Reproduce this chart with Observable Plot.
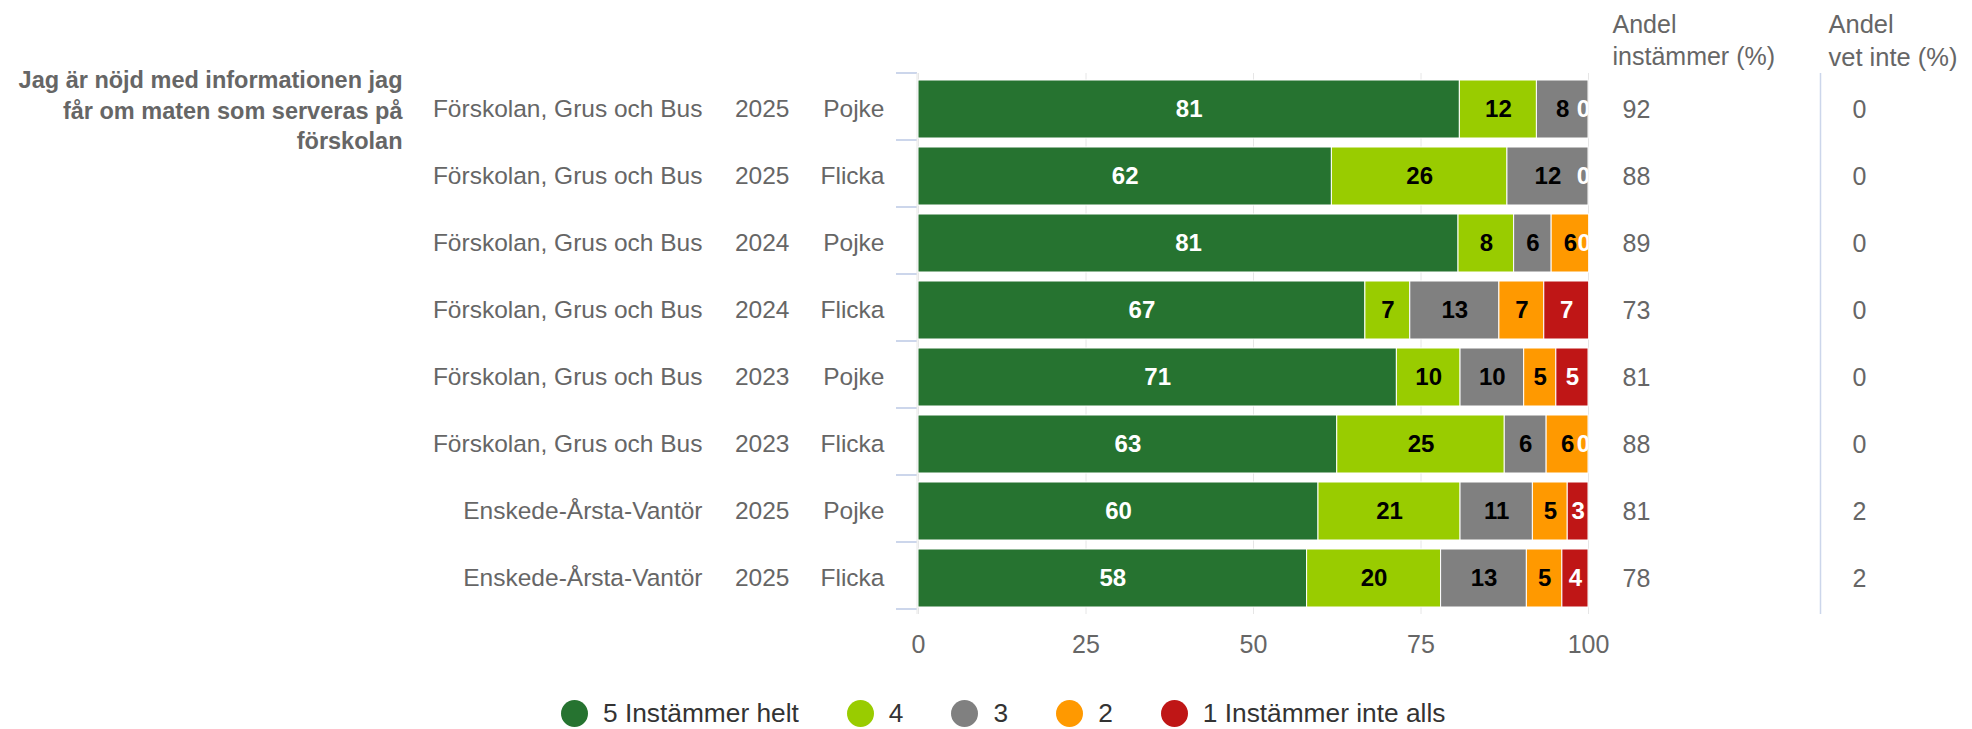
<!DOCTYPE html>
<html>
<head>
<meta charset="utf-8">
<script src="https://cdn.jsdelivr.net/npm/d3@7"></script>
<script src="https://cdn.jsdelivr.net/npm/@observablehq/plot@0.6"></script>
<style>
  html, body { margin: 0; padding: 0; background: #fff; }
  #wrap { position: relative; width: 1972px; height: 729px; font-family: "Liberation Sans", Arial, sans-serif; }
  #legend { position: absolute; left: 561px; top: 698px; display: flex; align-items: center; gap: 48px; font-size: 26.3px; color: #333; }
  .item { display: flex; align-items: center; }
  .sw { width: 27px; height: 27px; border-radius: 50%; margin-right: 15px; }
</style>
</head>
<body>
<div id="wrap"></div>
<script>
const question = "Jag är nöjd med informationen jag\nfår om maten som serveras på\nförskolan";
const schools = ["Förskolan, Grus och Bus","Förskolan, Grus och Bus","Förskolan, Grus och Bus","Förskolan, Grus och Bus","Förskolan, Grus och Bus","Förskolan, Grus och Bus","Enskede-Årsta-Vantör","Enskede-Årsta-Vantör"];
const years = ["2025","2025","2024","2024","2023","2023","2025","2025"];
const genders = ["Pojke","Flicka","Pojke","Flicka","Pojke","Flicka","Pojke","Flicka"];
const seriesNames = ["5 Instämmer helt","4","3","2","1 Instämmer inte alls"];
const seriesColors = ["#267330","#99cc00","#808080","#ff9900","#bf1616"];
const labelColors = ["#ffffff","#000000","#000000","#000000","#ffffff"];
const share5 = [80.8, 61.7, 80.6, 66.7, 71.4, 62.5, 59.7, 58.0];
const share4 = [11.5, 26.2, 8.3, 6.7, 9.5, 25.0, 21.2, 20.0];
const share3 = [7.7, 12.1, 5.6, 13.3, 9.5, 6.25, 10.8, 12.8];
const share2 = [0, 0, 5.6, 6.7, 4.8, 6.25, 5.2, 5.3];
const share1 = [0, 0, 0, 6.7, 4.8, 0, 3.1, 3.9];
const agree = [92, 88, 89, 73, 81, 88, 81, 78];
const dontKnow = [0, 0, 0, 0, 0, 0, 2, 2];
const xTicks = [0, 25, 50, 75, 100];
const header1 = "Andel\ninstämmer (%)";
const header2 = "Andel\nvet inte (%)";

const ids = schools.map((_, i) => String(i));
const shares = [share5, share4, share3, share2, share1];
const rows = ids.map((id, i) => ({id, school: schools[i], year: years[i], gender: genders[i], agree: agree[i], dk: dontKnow[i]}));
const data = [];
ids.forEach((id, i) => {
  let acc = 0;
  shares.forEach((arr, s) => {
    const v = arr[i];
    data.push({id, series: seriesNames[s], s, value: v, x1: acc, x2: acc + v, mid: acc + v / 2, label: String(Math.round(v))});
    acc += v;
  });
});
const labelData = data.filter(d => d.value > 0);
const zeroLabels = data.filter(d => d.value === 0 && d.s === 4);

const W = 1972, H = 680;
const mT = 73, mB = 66, mL = 918, mR = W - 1588;
const font = "'Liberation Sans', Arial, sans-serif";

const plot = Plot.plot({
  width: W, height: H,
  marginTop: mT, marginBottom: mB, marginLeft: mL, marginRight: mR,
  style: {fontFamily: font, background: "#fff"},
  x: {domain: [0, 100], axis: null},
  y: {domain: ids, paddingInner: 0.13, paddingOuter: 0.065, axis: null},
  color: {domain: seriesNames, range: seriesColors},
  marks: [
    Plot.ruleX(xTicks, {stroke: "#e6e6e6", strokeWidth: 1}),
    Plot.axisX({ticks: xTicks, tickSize: 0, tickPadding: 21, fontSize: 25, color: "#666", fill: "#666", label: null, tickFormat: d => String(d)}),
    Plot.barX(data, {x1: "x1", x2: "x2", y: "id", fill: "series", stroke: "#fff", strokeWidth: 1}),
    Plot.text(labelData, {x: "mid", y: "id", text: "label", fill: d => labelColors[d.s], fontWeight: "bold", fontSize: 24}),
    Plot.text(zeroLabels, {x: "mid", y: "id", text: "label", fill: d => labelColors[d.s], fontWeight: "bold", fontSize: 24, dx: -5, clip: true}),
    Plot.text(rows, {y: "id", text: "school", frameAnchor: "left", dx: 702 - mL, textAnchor: "end", fontSize: 24.5, fill: "#666"}),
    Plot.text(rows, {y: "id", text: "year", frameAnchor: "left", dx: 789 - mL, textAnchor: "end", fontSize: 24.5, fill: "#666"}),
    Plot.text(rows, {y: "id", text: "gender", frameAnchor: "left", dx: 884 - mL, textAnchor: "end", fontSize: 24.5, fill: "#666"}),
    Plot.text(rows, {y: "id", text: d => String(d.agree), frameAnchor: "right", dx: 1622 - 1588, textAnchor: "start", fontSize: 25, fill: "#666"}),
    Plot.text(rows, {y: "id", text: d => String(d.dk), frameAnchor: "right", dx: 1859 - 1588, textAnchor: "middle", fontSize: 25, fill: "#666"}),
    Plot.ruleX([100], {dx: 1820 - 1588, stroke: "#ccd6eb", strokeWidth: 1.5}),
    Plot.text([header1], {frameAnchor: "top-right", dx: 1612 - 1588, dy: 38 - mT, textAnchor: "start", lineAnchor: "middle", lineHeight: 1.31, fontSize: 25, fill: "#666"}),
    Plot.text([header2], {frameAnchor: "top-right", dx: 1828 - 1588, dy: 38 - mT, textAnchor: "start", lineAnchor: "middle", lineHeight: 1.31, fontSize: 25.5, fill: "#666"}),
    Plot.text([question], {frameAnchor: "top-left", dx: 402 - mL, dy: -7, textAnchor: "end", lineAnchor: "top", lineHeight: 1.3, fontSize: 23.5, fontWeight: "bold", fill: "#666"})
  ]
});

// category band boundary ticks on the left axis
const ys = plot.scale("y");
const step = ys.step;
const g = d3.select(plot).append("g").attr("stroke", "#ccd6eb").attr("stroke-width", 2);
for (let k = 0; k <= ids.length; k++) {
  const y = mT + k * step;
  g.append("line").attr("x1", mL - 22).attr("x2", mL - 1).attr("y1", y).attr("y2", y);
}
d3.select(plot).append("line").attr("x1", mL - 1).attr("x2", mL - 1).attr("y1", mT).attr("y2", H - mB).attr("stroke", "#e6e6e6");

const wrap = document.getElementById("wrap");
wrap.appendChild(plot);

const legend = document.createElement("div");
legend.id = "legend";
seriesNames.forEach((n, i) => {
  const it = document.createElement("div");
  it.className = "item";
  const sw = document.createElement("span");
  sw.className = "sw";
  sw.style.background = seriesColors[i];
  const tx = document.createElement("span");
  tx.textContent = n;
  it.appendChild(sw); it.appendChild(tx);
  legend.appendChild(it);
});
wrap.appendChild(legend);
</script>
</body>
</html>
